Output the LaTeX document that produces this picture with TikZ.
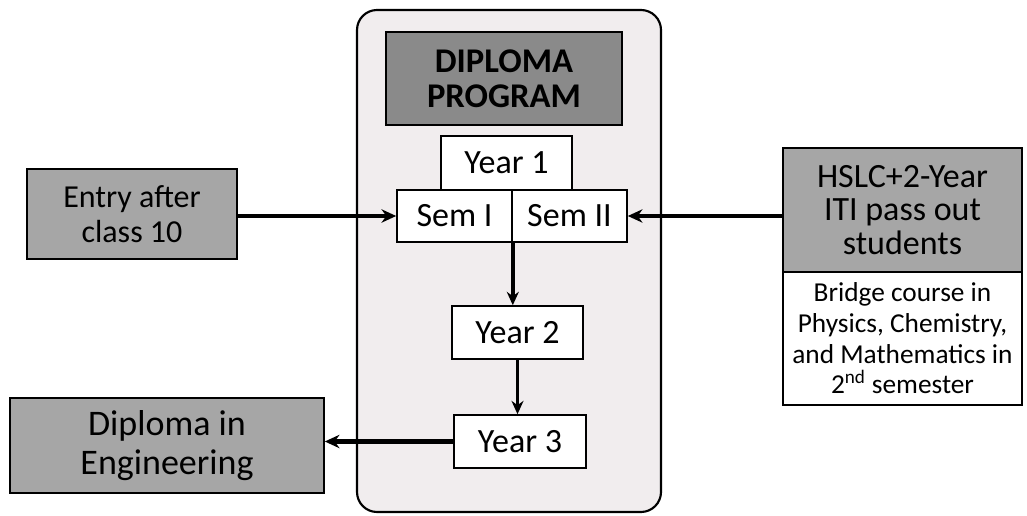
\documentclass[tikz,border=0pt]{standalone}
\usepackage{fontspec}
\setmainfont{Carlito}
\usetikzlibrary{arrows.meta}
\definecolor{outerfill}{HTML}{F1EDEE}
\definecolor{greyfill}{HTML}{A6A6A6}
\definecolor{darkfill}{HTML}{8A8A8A}
\tikzset{
  box/.style={draw=black, line width=1.2pt, inner sep=0pt, align=center, font=\fontsize{25.5}{26}\selectfont},
  greybox/.style={box, fill=greyfill},
  whitebox/.style={box, fill=white},
  arr/.style={line width=3.4pt, -{Stealth[length=11pt,width=10pt]}},
  varr/.style={line width=2.6pt, -{Stealth[length=10pt,width=9pt]}}
}
\begin{document}
\begin{tikzpicture}[x=0.75pt,y=-0.75pt]
\useasboundingbox (0,0) rectangle (1027,516);
\fill[white] (0,0) rectangle (1027,516);
% outer program box
\node[draw=black, line width=1.6pt, fill=outerfill, rounded corners=15pt,
      minimum width=304*0.75pt, minimum height=502*0.75pt, inner sep=0pt] (outer) at (509,261) {};
% title
\node[box, fill=darkfill, minimum width=236*0.75pt, minimum height=93*0.75pt,
      font=\bfseries\fontsize{26}{26.5}\selectfont] (dip) at (504,78.5) {DIPLOMA\\PROGRAM};
% years and semesters
\node[whitebox, minimum width=131*0.75pt, minimum height=54*0.75pt] (year1) at (506.5,163) {Year 1};
\node[whitebox, minimum width=115*0.75pt, minimum height=52*0.75pt] (semI) at (454.5,216) {Sem I};
\node[whitebox, minimum width=115*0.75pt, minimum height=52*0.75pt] (semII) at (569.5,216) {Sem II};
\node[whitebox, minimum width=131*0.75pt, minimum height=53*0.75pt] (year2) at (517.5,332.5) {Year 2};
\node[whitebox, minimum width=132*0.75pt, minimum height=53*0.75pt] (year3) at (520,441.5) {Year 3};
% left boxes
\node[greybox, minimum width=210*0.75pt, minimum height=90*0.75pt, font=\fontsize{24}{26}\selectfont] (entry) at (132,214) {Entry after\\class 10};
\node[greybox, minimum width=314*0.75pt, minimum height=95*0.75pt, font=\fontsize{27}{29}\selectfont] (deng) at (167,445.5) {Diploma in\\Engineering};
% right boxes
\node[greybox, minimum width=239*0.75pt, minimum height=124*0.75pt, font=\fontsize{25.5}{25}\selectfont] (hslc) at (902.5,210) {HSLC+2-Year\\ITI pass out\\students};
\node[whitebox, minimum width=239*0.75pt, minimum height=133*0.75pt, font=\fontsize{20.5}{23}\selectfont] (bridge) at (902.5,338.5) {Bridge course in\\Physics, Chemistry,\\and Mathematics in\\2\textsuperscript{nd} semester};
% connectors
\draw[arr] (entry.east |- semI.west) -- (semI.west);
\draw[arr] (hslc.west |- semII.east) -- (semII.east);
\draw[varr] (semI.south east) -- (semI.south east |- year2.north);
\draw[varr] (year2.south) -- (year2.south |- year3.north);
\draw[arr] (year3.west) -- (year3.west -| deng.east);
\end{tikzpicture}
\end{document}
